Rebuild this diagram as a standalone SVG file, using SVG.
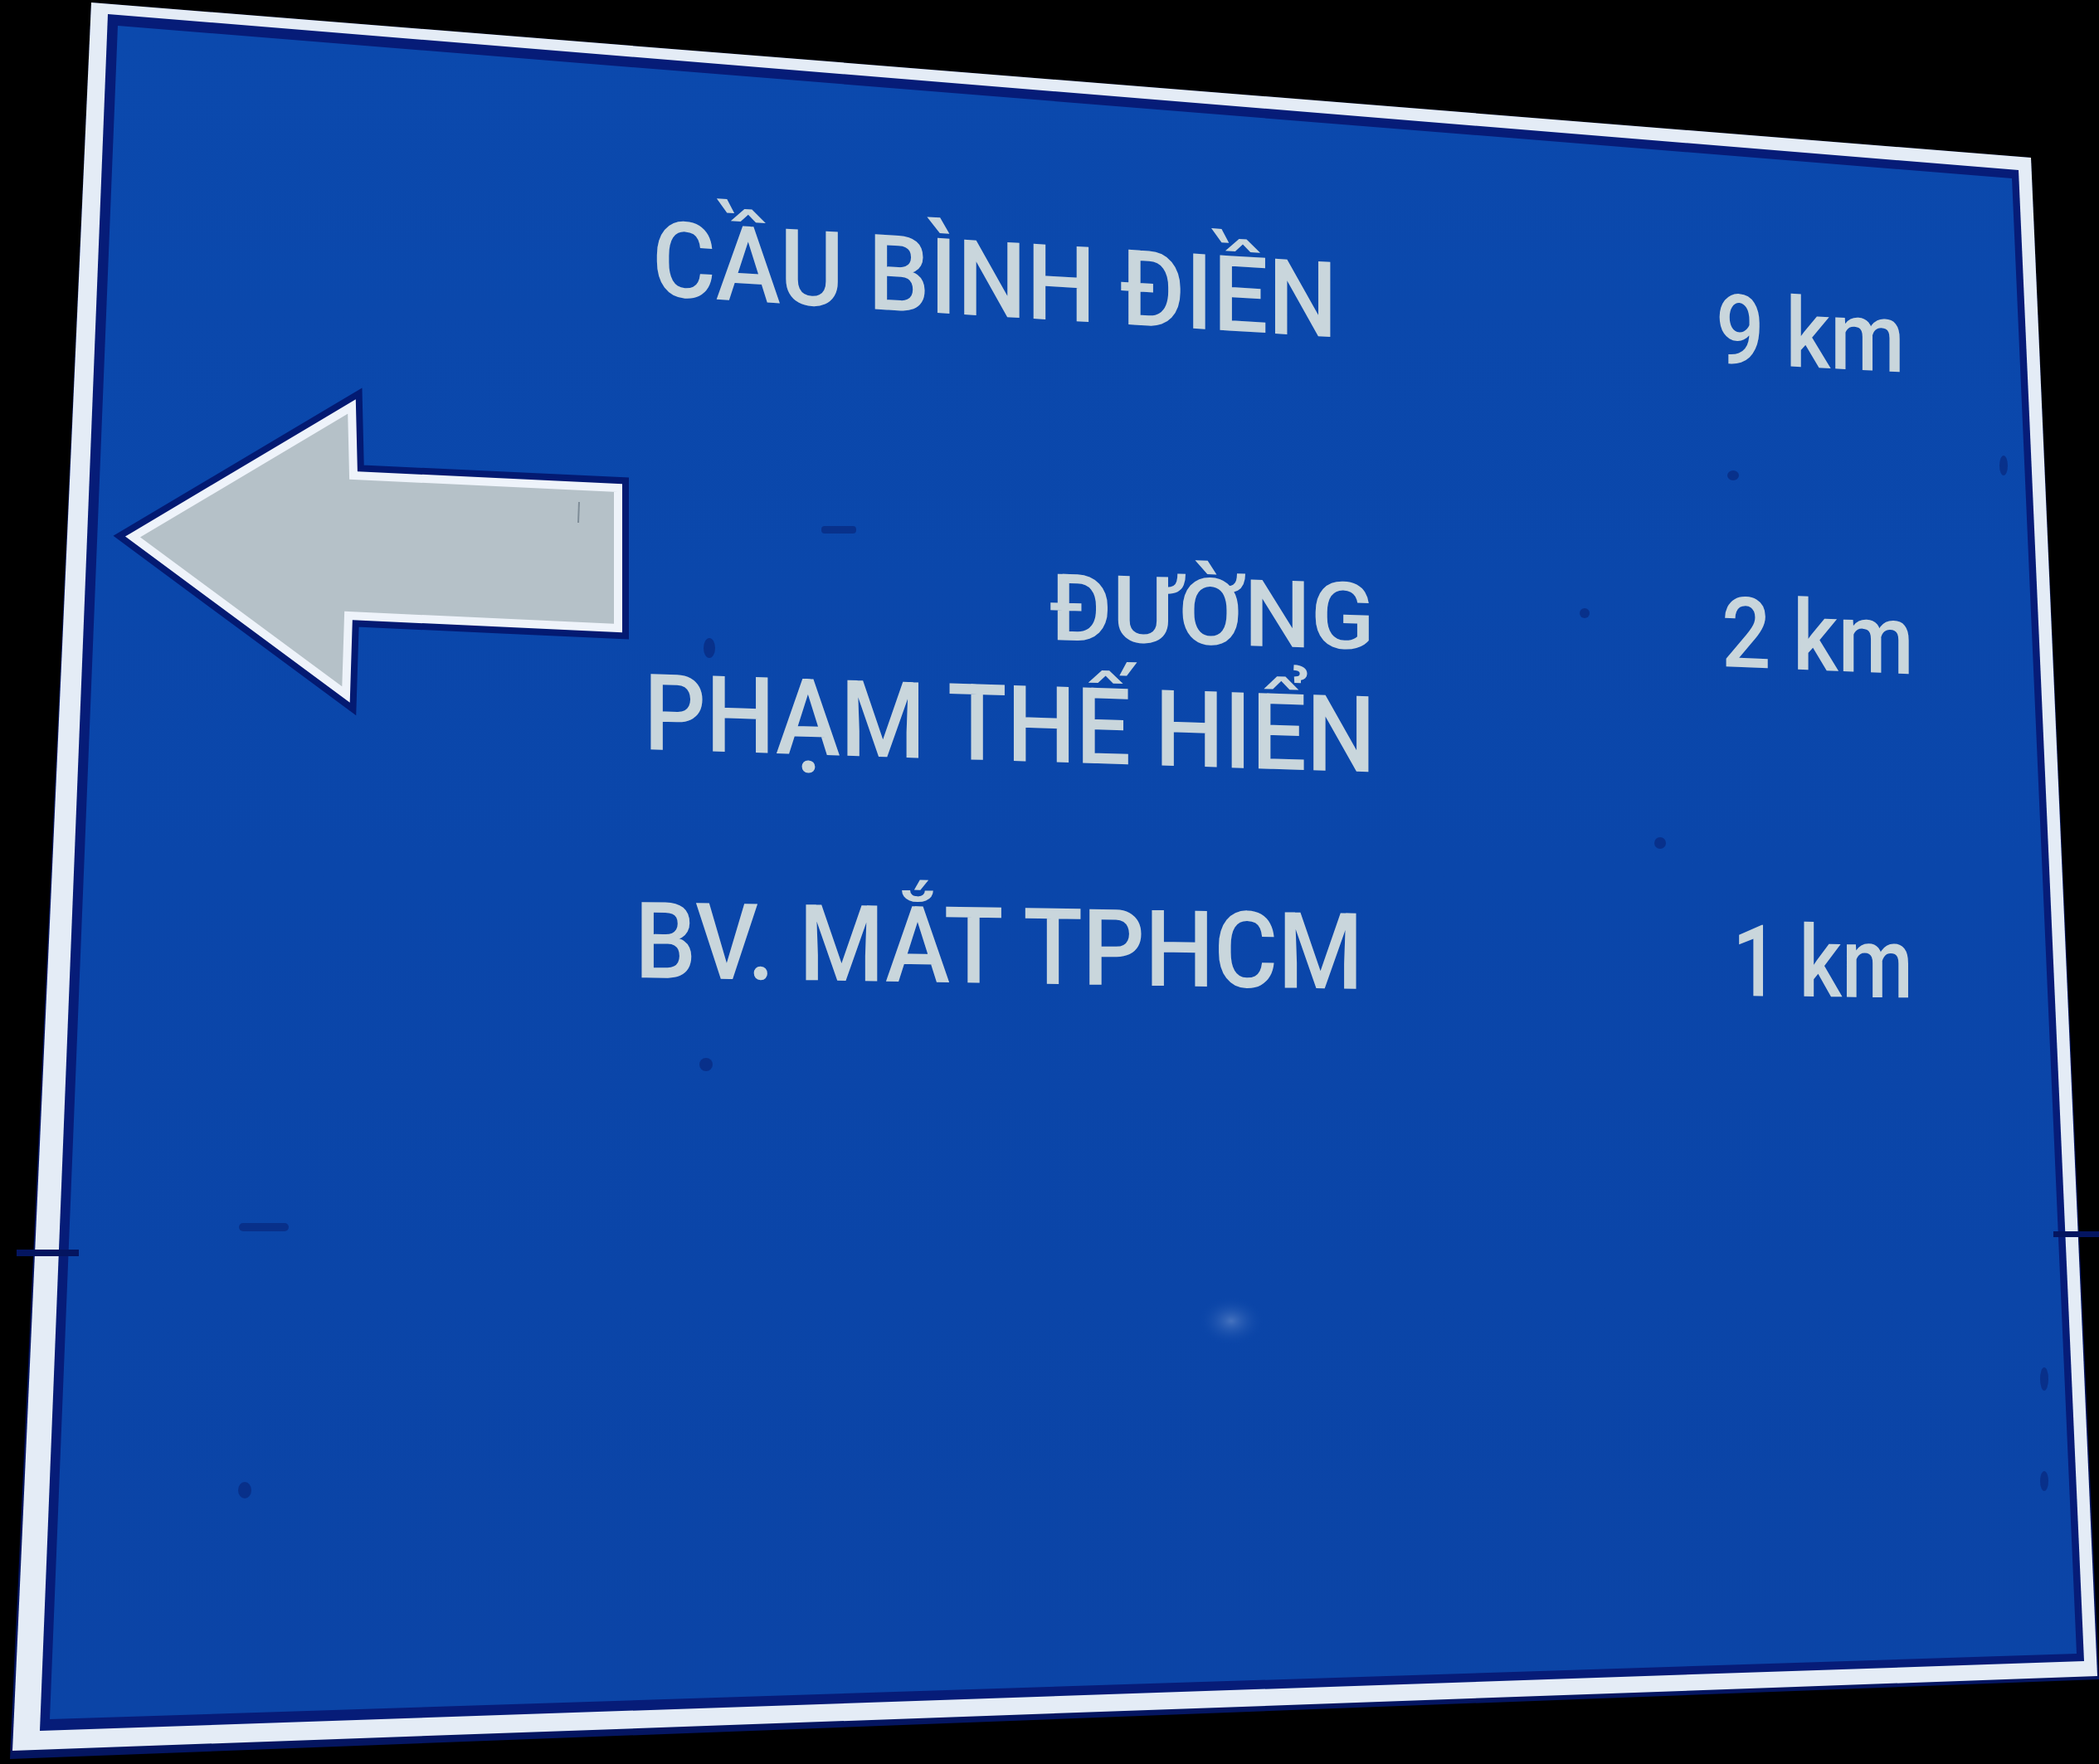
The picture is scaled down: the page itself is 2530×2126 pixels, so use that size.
<svg xmlns="http://www.w3.org/2000/svg" width="2530" height="2126" viewBox="0 0 2530 2126">
  <style>
    .lbl { font-family: "Roboto", "DejaVu Sans", "Liberation Sans", sans-serif; font-weight: 500; fill: #c9d6dc; }
    .mark { fill: #082a80; opacity: 0.75; }
  </style>
  <defs>
    <linearGradient id="blueGrad" x1="0" y1="0" x2="0" y2="1">
      <stop offset="0" stop-color="#0b49ad"/>
      <stop offset="0.5" stop-color="#0a46aa"/>
      <stop offset="1" stop-color="#0b44a6"/>
    </linearGradient>
    <radialGradient id="smudge" cx="0.5" cy="0.5" r="0.5">
      <stop offset="0" stop-color="#5f86c8" stop-opacity="0.7"/>
      <stop offset="1" stop-color="#0a46aa" stop-opacity="0"/>
    </radialGradient>
  </defs>

  <rect x="0" y="0" width="2530" height="2126" fill="#000000"/>

  <g id="sign-frame">
    <polygon points="110,3 2448,190 2530,2024 12,2120" fill="#041560"/>
    <polygon points="110,3 2448,190 2528,2020 15,2110" fill="#e4ecf6"/>
    <polygon points="130,17 2433,205 2512,2002 48,2086" fill="#061c78"/>
    <polygon points="142,31 2425,215 2503,1993 60,2072" fill="url(#blueGrad)"/>
    <ellipse cx="1484" cy="1592" rx="40" ry="30" fill="url(#smudge)"/>
    <!-- panel seams -->
    <rect x="20" y="1506" width="75" height="8" fill="#041560"/>
    <rect x="2475" y="1484" width="55" height="7" fill="#041560"/>
    <!-- bolts / marks -->
    <rect class="mark" x="990" y="634" width="42" height="9" rx="4"/>
    <rect class="mark" x="288" y="1474" width="60" height="10" rx="5"/>
    <ellipse class="mark" cx="295" cy="1796" rx="8" ry="10"/>
    <ellipse class="mark" cx="855" cy="781" rx="7" ry="12"/>
    <ellipse class="mark" cx="851" cy="1283" rx="8" ry="8"/>
    <ellipse class="mark" cx="2001" cy="1016" rx="7" ry="7"/>
    <ellipse class="mark" cx="2089" cy="573" rx="7" ry="6"/>
    <ellipse class="mark" cx="2415" cy="561" rx="5" ry="12"/>
    <ellipse class="mark" cx="2464" cy="1662" rx="5" ry="14"/>
    <ellipse class="mark" cx="2464" cy="1785" rx="5" ry="12"/>
    <ellipse class="mark" cx="1910" cy="739" rx="6" ry="6"/>
  </g>

  <g id="arrow">
    <path d="M160,647 L424,490 L426,573 L745,588 L745,757 L420,742 L417,837 Z" fill="none" stroke="#031a72" stroke-width="26" stroke-linejoin="miter" stroke-miterlimit="10"/>
    <path d="M160,647 L424,490 L426,573 L745,588 L745,757 L420,742 L417,837 Z" fill="#b5c1c8" stroke="#eef3fa" stroke-width="10" stroke-linejoin="miter" stroke-miterlimit="10"/>
    <line x1="698" y1="605" x2="697" y2="630" stroke="#5a6a78" stroke-width="2" opacity="0.6"/>
  </g>

  <g id="label-cau-binh-dien">
    <text class="lbl" transform="translate(786,356) skewY(3.5)" x="0" y="0" font-size="127" textLength="826" lengthAdjust="spacingAndGlyphs">CẦU BÌNH ĐIỀN</text>
  </g>
  <g id="dist-9km">
    <text class="lbl" transform="translate(2068,437) skewY(2.9)" x="0" y="0" font-size="117" textLength="228" lengthAdjust="spacingAndGlyphs">9 km</text>
  </g>

  <g id="label-duong-pham-the-hien">
    <text class="lbl" transform="translate(1265,771) skewY(1.7)" x="0" y="0" font-size="112" textLength="392" lengthAdjust="spacingAndGlyphs">ĐƯỜNG</text>
    <text class="lbl" transform="translate(776,903) skewY(1.8)" x="0" y="0" font-size="128" textLength="882" lengthAdjust="spacingAndGlyphs">PHẠM THẾ HIỂN</text>
  </g>
  <g id="dist-2km">
    <text class="lbl" transform="translate(2075,803) skewY(2.3)" x="0" y="0" font-size="118" textLength="232" lengthAdjust="spacingAndGlyphs">2 km</text>
  </g>

  <g id="label-bv-mat-tphcm">
    <text class="lbl" transform="translate(765,1178) skewY(0.9)" x="0" y="0" font-size="128" textLength="878" lengthAdjust="spacingAndGlyphs">BV. MẮT TPHCM</text>
  </g>
  <g id="dist-1km">
    <text class="lbl" transform="translate(2088,1200) skewY(0.6)" x="0" y="0" font-size="120" textLength="218" lengthAdjust="spacingAndGlyphs">1 km</text>
  </g>
</svg>
